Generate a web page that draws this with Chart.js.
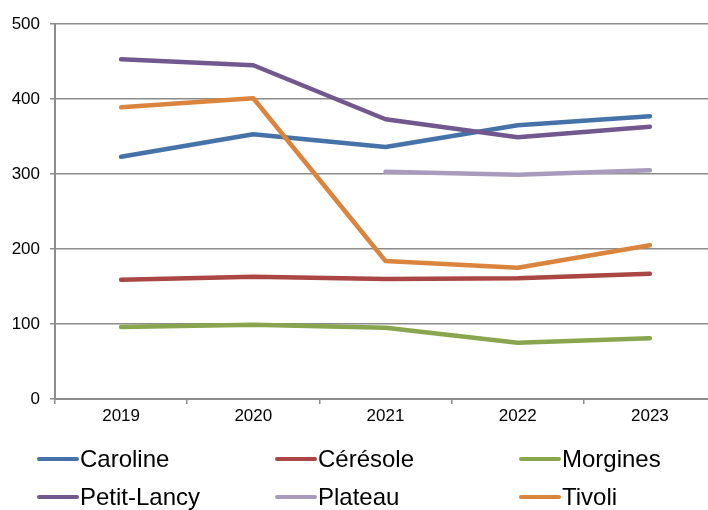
<!DOCTYPE html>
<html>
<head>
<meta charset="utf-8">
<script src="https://cdn.jsdelivr.net/npm/chart.js@4"></script>
<style>
  html, body { margin: 0; padding: 0; background: #fff; overflow: hidden; width: 708px; height: 510px; }
  #wrap { position: absolute; left: 0; top: 0; width: 720px; height: 432px; }
  #legend { position: absolute; left: 0; top: 0; width: 708px; height: 510px; pointer-events: none;
            font-family: "Liberation Sans", Arial, sans-serif; font-size: 24px; color: #000; }
  .item { position: absolute; display: flex; align-items: center; height: 26px; }
  .swatch { width: 42px; height: 4px; border-radius: 2px; margin-right: 1px; }
</style>
</head>
<body>
<div id="wrap"><canvas id="chart"></canvas></div>
<div id="legend"></div>
<script>
var years = ['2019', '2020', '2021', '2022', '2023'];
var caroline = [323, 353, 336, 365, 377];
var ceresole = [159, 163, 160, 161, 167];
var morgines = [96, 99, 95, 75, 81];
var petitLancy = [453, 445, 373, 349, 363];
var plateau = [null, null, 303, 299, 305];
var tivoli = [389, 401, 184, 175, 205];
var yTicks = [0, 100, 200, 300, 400, 500];

var series = [
  { label: 'Caroline', data: caroline, color: '#4572A7' },
  { label: 'Cérésole', data: ceresole, color: '#AA4643' },
  { label: 'Morgines', data: morgines, color: '#89A54E' },
  { label: 'Petit-Lancy', data: petitLancy, color: '#71588F' },
  { label: 'Plateau', data: plateau, color: '#A99BBD' },
  { label: 'Tivoli', data: tivoli, color: '#DB843D' }
];

var gridColor = '#8c8c8c';
var tickFont = { family: '"Liberation Sans", Arial, sans-serif', size: 17 };

// draw order: Plateau under the rest, like the original
var drawOrder = { 'Plateau': 6, 'Morgines': 5, 'Cérésole': 4, 'Caroline': 3, 'Tivoli': 2, 'Petit-Lancy': 1 };

new Chart(document.getElementById('chart'), {
  type: 'line',
  data: {
    labels: years,
    datasets: series.map(function(s) { return {
      label: s.label, data: s.data, borderColor: s.color, backgroundColor: s.color,
      borderWidth: 4.5, pointRadius: 0, tension: 0, fill: false, spanGaps: false,
      borderCapStyle: 'round', borderJoinStyle: 'round', order: drawOrder[s.label]
    }; })
  },
  options: {
    responsive: true, maintainAspectRatio: false, animation: false,
    layout: { padding: { top: 24, right: 4, left: 0, bottom: 0 } },
    plugins: { legend: { display: false }, tooltip: { enabled: false } },
    scales: {
      x: {
        offset: true,
        grid: { offset: true, drawOnChartArea: false, drawTicks: true, tickLength: 5, color: gridColor, lineWidth: 1.5 },
        border: { color: gridColor, width: 2 },
        ticks: { color: '#000', font: tickFont, padding: 2, maxRotation: 0 },
        afterFit: function(s) { s.height = 33; }
      },
      y: {
        min: 0, max: 500,
        afterBuildTicks: function(s) { s.ticks = yTicks.map(function(v) { return { value: v }; }); },
        grid: { color: gridColor, lineWidth: 1.5, tickLength: 5 },
        border: { color: gridColor, width: 2 },
        ticks: { color: '#000', font: tickFont, padding: 10 },
        afterFit: function(s) { s.width = 55; }
      }
    }
  }
});

// legend in three fixed columns
var lg = document.getElementById('legend');
var colX = [37, 275, 519];
var rowY = [446, 484];
series.forEach(function(s, i) {
  var d = document.createElement('div');
  d.className = 'item';
  d.style.left = colX[i % 3] + 'px';
  d.style.top = rowY[Math.floor(i / 3)] + 'px';
  d.innerHTML = '<span class="swatch" style="background:' + s.color + '"></span><span>' + s.label + '</span>';
  lg.appendChild(d);
});
</script>
</body>
</html>
